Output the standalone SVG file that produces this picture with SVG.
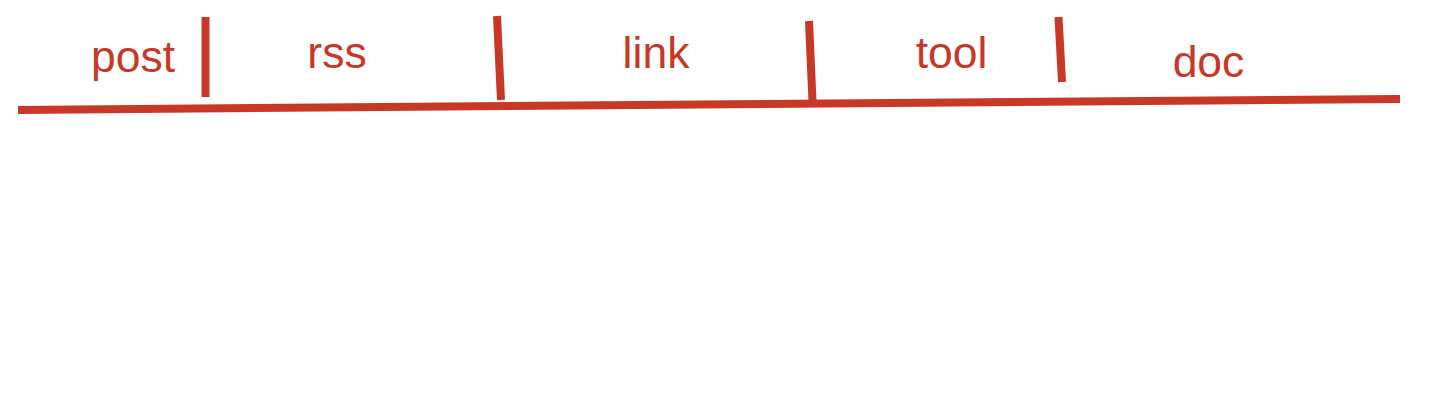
<svg xmlns="http://www.w3.org/2000/svg" width="1430" height="414" viewBox="0 0 1430 414">
<style>
.ln{stroke:#C93726;stroke-width:8;fill:none;stroke-linecap:butt}
.lb{fill:#C93726;font-family:"Liberation Sans",Arial,sans-serif;font-size:44.5px;text-anchor:middle}
</style>
<rect width="1430" height="414" fill="#ffffff"/>
<g id="connectors">
<line class="ln" x1="18" y1="110" x2="1400" y2="99"/>
<line class="ln" x1="205.5" y1="17" x2="205.5" y2="97"/>
<line class="ln" x1="497" y1="16" x2="501" y2="100"/>
<line class="ln" x1="809" y1="21" x2="812.5" y2="101"/>
<line class="ln" x1="1058.5" y1="17" x2="1062" y2="82"/>
</g>
<g id="post"><text class="lb" x="133" y="72">post</text></g>
<g id="rss"><text class="lb" x="337" y="68">rss</text></g>
<g id="link"><text class="lb" x="656" y="68">link</text></g>
<g id="tool"><text class="lb" x="951.5" y="68">tool</text></g>
<g id="doc"><text class="lb" x="1208.5" y="77">doc</text></g>
</svg>
